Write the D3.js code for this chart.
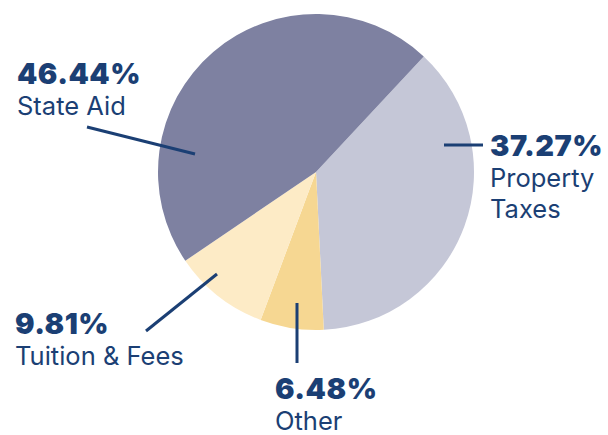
<!DOCTYPE html>
<html>
<head>
<meta charset="utf-8">
<script src="https://cdn.jsdelivr.net/npm/d3@7"></script>
<style>
  body { margin: 0; background: #fff; }
  svg text { font-family: Inter, "Open Sans", sans-serif; fill: #1b3f74; }
</style>
</head>
<body>
<div id="chart-area"></div>
<script>
// revenue sources, in drawing order (clockwise from upper right)
var categories = ['Property Taxes', 'Other', 'Tuition & Fees', 'State Aid'];
var shares = [37.27, 6.48, 9.81, 46.44];
var colors = ['#c5c7d7', '#f6d792', '#fdebc6', '#7e81a1'];
// label lines: name may break over lines
var nameLines = [['Property', 'Taxes'], ['Other'], ['Tuition & Fees'], ['State Aid']];

var width = 608, height = 435;
var cx = 316, cy = 172, radius = 158;

var svg = d3.select('#chart-area').append('svg')
    .attr('width', width)
    .attr('height', height);

var g = svg.append('g')
    .attr('transform', 'translate(' + cx + ',' + cy + ')');

var start = 43 * Math.PI / 180;
var pie = d3.pie()
    .sort(null)
    .value(function(d){ return d; })
    .startAngle(start)
    .endAngle(start + 2 * Math.PI);

var arc = d3.arc().innerRadius(0).outerRadius(radius);

var arcs = pie(shares);

g.selectAll('path.slice')
    .data(arcs)
  .enter().append('path')
    .attr('class', 'slice')
    .attr('d', arc)
    .attr('fill', function(d, i){ return colors[i]; });

// leader lines + labels (positions in page coords)
var labelPos = [
  { line: [[444, 145], [483, 145]], x: 490, y: 156 },
  { line: [[297, 303], [297, 363]], x: 275, y: 399 },
  { line: [[217, 274], [146, 331]], x: 15, y: 334 },
  { line: [[195, 154], [87, 127]], x: 17, y: 84 }
];

var fmt = d3.format('.2f');

categories.forEach(function(c, i){
  var p = labelPos[i];
  svg.append('line')
    .attr('x1', p.line[0][0]).attr('y1', p.line[0][1])
    .attr('x2', p.line[1][0]).attr('y2', p.line[1][1])
    .attr('stroke', '#1b3f74')
    .attr('stroke-width', 3);

  svg.append('text')
    .attr('x', p.x).attr('y', p.y)
    .attr('font-size', '29px')
    .attr('font-weight', 900)
    .attr('letter-spacing', '0.5px')
    .text(fmt(shares[i]) + '%');

  nameLines[i].forEach(function(t, j){
    svg.append('text')
      .attr('x', p.x).attr('y', p.y + 31 + j * 31)
      .attr('font-size', '25.5px')
      .text(t);
  });
});
</script>
</body>
</html>
